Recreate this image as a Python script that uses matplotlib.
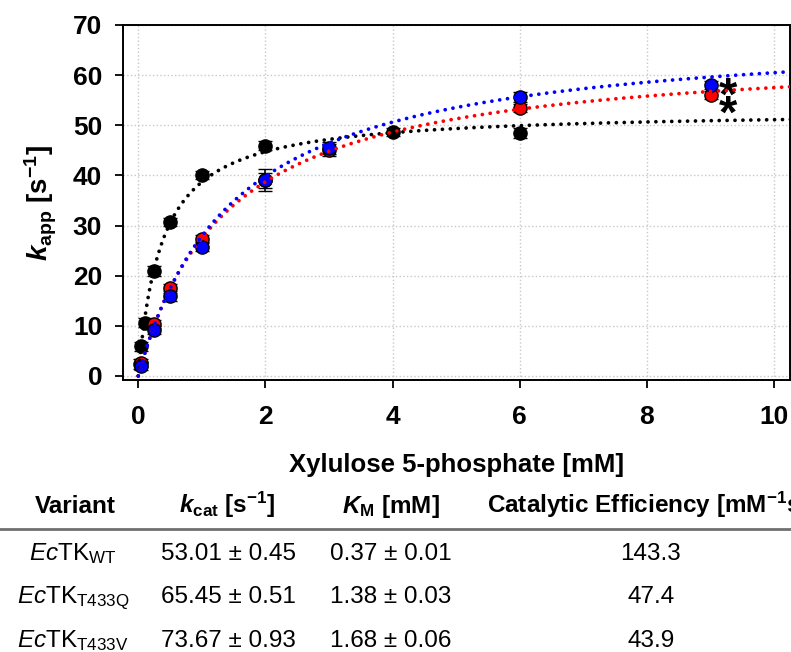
import numpy as np
import matplotlib
matplotlib.use("Agg")
import matplotlib.pyplot as plt

plt.rcParams["font.family"] = ["Liberation Sans", "DejaVu Sans"]
plt.rcParams["mathtext.fontset"] = "custom"
plt.rcParams["mathtext.rm"] = "Liberation Sans"
plt.rcParams["mathtext.it"] = "Liberation Sans:italic"
plt.rcParams["mathtext.bf"] = "Liberation Sans:bold"
plt.rcParams["mathtext.bfit"] = "Liberation Sans:bold:italic"

# Data
wt_x   = [0.025, 0.05, 0.1, 0.25, 0.5, 1.0, 2.0, 4.0, 6.0]
wt_y   = [2.4, 5.9, 10.6, 21.0, 30.7, 40.1, 45.9, 48.6, 48.5]
wt_err = [1.0, 0.9, 0.9, 1.0, 0.8, 0.8, 0.9, 0.8, 1.0]

mut_x  = [0.05, 0.25, 0.5, 1.0, 2.0, 3.0, 6.0, 9.0]
q_y    = [2.5, 10.4, 17.5, 27.3, 39.0, 45.0, 53.4, 56.1]
q_err  = [0.8, 0.8, 0.9, 0.8, 1.5, 1.2, 0.8, 0.8]
v_y    = [1.9, 9.2, 16.0, 25.8, 39.1, 45.4, 55.6, 58.1]
v_err  = [0.8, 0.8, 1.0, 0.9, 2.2, 1.2, 1.0, 0.8]

# Michaelis-Menten curves as drawn in the figure (vmax, KM)
fit_vmax = [53.01, 65.45, 69.5]
fit_km   = [0.37, 1.38, 1.49]

colors = ["black", "red", "blue"]

# significance marks at 9 mM
star_x = [9.28, 9.28]
star_y = [57.7, 54.1]

# Table
tab_header = ["Variant", r"$\mathbfit{k}_{\mathbf{cat}}$ [s$^{\mathbf{-1}}$]",
              r"$\mathbfit{K}_{\mathbf{M}}$ [mM]",
              r"Catalytic Efficiency [mM$^{\mathbf{-1}}$s$^{\mathbf{-1}}$]"]
tab_variant = [r"$\mathit{Ec}$TK$_{\mathrm{WT}}$", r"$\mathit{Ec}$TK$_{\mathrm{T433Q}}$",
               r"$\mathit{Ec}$TK$_{\mathrm{T433V}}$"]
tab_kcat = ["53.01 \u00b1 0.45", "65.45 \u00b1 0.51", "73.67 \u00b1 0.93"]
tab_km   = ["0.37 \u00b1 0.01", "1.38 \u00b1 0.03", "1.68 \u00b1 0.06"]
tab_eff  = ["143.3", "47.4", "43.9"]

W, H = 791, 652
fig = plt.figure(figsize=(W / 100, H / 100), dpi=100)
ax = fig.add_axes([123 / W, 1 - 380 / H, (790 - 123) / W, (380 - 25) / H])

eb_kw = dict(fmt="o", ms=9.5, mec="black", mew=1.0, ecolor="black",
             elinewidth=1.2, capsize=5, capthick=1.2, zorder=3)
ax.errorbar(wt_x, wt_y, yerr=wt_err, mfc=colors[0], **eb_kw)
ax.errorbar(mut_x, q_y, yerr=q_err, mfc=colors[1], **eb_kw)
ax.errorbar(mut_x, v_y, yerr=v_err, mfc=colors[2], **eb_kw)

xs = np.linspace(0, 10.3, 400)
for vm, km, c in zip(fit_vmax, fit_km, colors):
    ax.plot(xs, vm * xs / (km + xs), color=c, lw=2.7,
            linestyle=(0, (0.01, 2.1)), dash_capstyle="round", zorder=4)

for sx, sy in zip(star_x, star_y):
    ax.annotate("*", (sx, sy), xytext=(0, -8), textcoords="offset points",
                fontsize=34, fontweight="bold", ha="center", va="center")

ax.set_xlim(-0.24, 10.25)
ax.set_ylim(-0.8, 70)
ax.set_xticks(np.arange(0, 11, 2))
ax.set_yticks(np.arange(0, 71, 10))
ax.grid(True, color="#c8c8c8", linestyle=":", lw=1)
ax.set_axisbelow(True)
for s in ax.spines.values():
    s.set_linewidth(1.4)
ax.tick_params(direction="out", length=6, width=1.3, labelsize=19)
ax.tick_params(axis="x", pad=12)
ax.tick_params(axis="y", pad=9)
for lab in ax.get_xticklabels() + ax.get_yticklabels():
    lab.set_fontweight("bold")

ax.set_xlabel("Xylulose 5-phosphate [mM]", fontsize=18.5, fontweight="bold", labelpad=17)
ax.set_ylabel(r"$\mathbfit{k}_{\mathbf{app}}$ [s$^{\mathbf{-1}}$]", fontsize=20,
              fontweight="bold", labelpad=10)

# Table below the plot
def fy(y):
    return 1 - y / H

hx = [75, 227, 391]
for x, t in zip(hx, tab_header[:3]):
    fig.text(x / W, fy(513), t, fontsize=17.5, fontweight="bold", ha="center", va="baseline")
fig.text(487 / W, fy(513), tab_header[3], fontsize=17.5, fontweight="bold",
         ha="left", va="baseline")
fig.add_artist(plt.Line2D([0, 1], [fy(529), fy(529)], color="#707070", lw=2,
                          transform=fig.transFigure))

row_base = [560, 603, 647]
for i, yb in enumerate(row_base):
    fig.text(73 / W, fy(yb), tab_variant[i], fontsize=17.5, ha="center", va="baseline")
    fig.text(228 / W, fy(yb), tab_kcat[i], fontsize=17.5, ha="center", va="baseline")
    fig.text(391 / W, fy(yb), tab_km[i], fontsize=17.5, ha="center", va="baseline")
    fig.text(651 / W, fy(yb), tab_eff[i], fontsize=17.5, ha="center", va="baseline")

fig.savefig("out.png", dpi=100)
